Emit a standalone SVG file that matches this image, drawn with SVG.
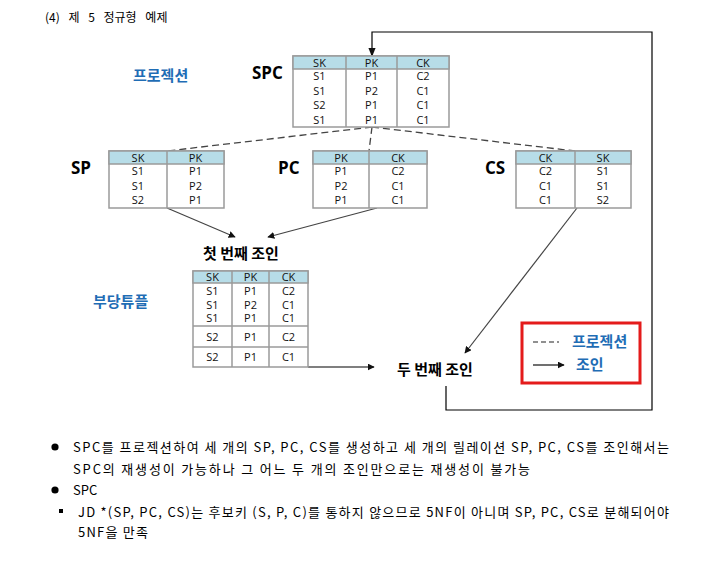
<svg xmlns="http://www.w3.org/2000/svg" width="710" height="572" viewBox="0 0 710 572">
<defs>
<style>
text{font-family:"Noto Sans CJK KR","Noto Sans",sans-serif;fill:#000}
.cell{font-family:"Open Sans","Noto Sans",sans-serif;font-size:11px;text-anchor:middle;fill:#111}
.hdr{fill:#b7dde8;stroke:#9a9a9a;stroke-width:1.5}
.box{fill:#fff;stroke:#9a9a9a;stroke-width:1.5}
.div{stroke:#9a9a9a;stroke-width:1.5}
.lbl{font-family:"Open Sans","Noto Sans",sans-serif;font-weight:bold;font-size:17px}
.blue{fill:#1f6db5;font-weight:bold;font-size:15px}
.jn{font-weight:bold;font-size:15px}
.body{font-size:13px}
.dash{stroke:#444;stroke-width:1.3;stroke-dasharray:7 4;fill:none}
.solid{stroke:#444;stroke-width:1.2;fill:none}
.blk{stroke:#000;stroke-width:1.2;fill:none}
</style>
<marker id="ah" viewBox="0 0 10 10" refX="9" refY="5" markerWidth="7" markerHeight="7" orient="auto" markerUnits="userSpaceOnUse"><path d="M0,0 L10,5 L0,10 z" fill="#111"/></marker>
<marker id="ah2" viewBox="0 0 10 10" refX="9" refY="5" markerWidth="9" markerHeight="9" orient="auto" markerUnits="userSpaceOnUse"><path d="M0,1 L10,5 L0,9 z" fill="#111"/></marker>
</defs>
<rect width="710" height="572" fill="#fff"/>
<text x="45" y="22" font-size="12" word-spacing="6">(4) 제 5 정규형 예제</text>

<g id="connectors">
<path class="dash" d="M372,127 L167,151"/>
<path class="dash" d="M372,127 L369,151"/>
<path class="dash" d="M372,127 L575,151"/>
<path class="solid" d="M167,208 L235,237" marker-end="url(#ah)"/>
<path class="solid" d="M377,208 L268,237" marker-end="url(#ah)"/>
<path class="solid" d="M577,208 L465,353" marker-end="url(#ah)"/>
<path class="blk" d="M308,367 L374,367" marker-end="url(#ah)"/>
<path class="blk" d="M446,386 L446,410 L652,410 L652,32 L372,32 L372,56" marker-end="url(#ah2)"/>
</g>

<g id="label-projection"><text x="133" y="81" class="blue">프로젝션</text></g>

<g id="SPC">
<text x="252" y="79" class="lbl">SPC</text>
<rect class="box" x="293" y="56" width="156" height="71"/>
<rect class="hdr" x="293" y="56" width="156" height="13"/>
<line class="div" x1="346" y1="56" x2="346" y2="127"/>
<line class="div" x1="397" y1="56" x2="397" y2="127"/>
<text class="cell" x="319.5" y="67">SK</text><text class="cell" x="371.5" y="67">PK</text><text class="cell" x="423" y="67">CK</text>
<text class="cell" x="319.5" y="80">S1</text><text class="cell" x="371.5" y="80">P1</text><text class="cell" x="423" y="80">C2</text>
<text class="cell" x="319.5" y="95">S1</text><text class="cell" x="371.5" y="95">P2</text><text class="cell" x="423" y="95">C1</text>
<text class="cell" x="319.5" y="109">S2</text><text class="cell" x="371.5" y="109">P1</text><text class="cell" x="423" y="109">C1</text>
<text class="cell" x="319.5" y="124">S1</text><text class="cell" x="371.5" y="124">P1</text><text class="cell" x="423" y="124">C1</text>
</g>

<g id="SP">
<text x="71" y="174" class="lbl">SP</text>
<rect class="box" x="109" y="151" width="115" height="57"/>
<rect class="hdr" x="109" y="151" width="115" height="13"/>
<line class="div" x1="167" y1="151" x2="167" y2="208"/>
<text class="cell" x="138" y="162">SK</text><text class="cell" x="195.5" y="162">PK</text>
<text class="cell" x="138" y="175">S1</text><text class="cell" x="195.5" y="175">P1</text>
<text class="cell" x="138" y="190">S1</text><text class="cell" x="195.5" y="190">P2</text>
<text class="cell" x="138" y="204">S2</text><text class="cell" x="195.5" y="204">P1</text>
</g>

<g id="PC">
<text x="278" y="174" class="lbl">PC</text>
<rect class="box" x="313" y="151" width="114" height="57"/>
<rect class="hdr" x="313" y="151" width="114" height="13"/>
<line class="div" x1="369" y1="151" x2="369" y2="208"/>
<text class="cell" x="341" y="162">PK</text><text class="cell" x="398" y="162">CK</text>
<text class="cell" x="341" y="175">P1</text><text class="cell" x="398" y="175">C2</text>
<text class="cell" x="341" y="190">P2</text><text class="cell" x="398" y="190">C1</text>
<text class="cell" x="341" y="204">P1</text><text class="cell" x="398" y="204">C1</text>
</g>

<g id="CS">
<text x="485" y="174" class="lbl">CS</text>
<rect class="box" x="516" y="151" width="115" height="57"/>
<rect class="hdr" x="516" y="151" width="115" height="13"/>
<line class="div" x1="575" y1="151" x2="575" y2="208"/>
<text class="cell" x="545.5" y="162">CK</text><text class="cell" x="603" y="162">SK</text>
<text class="cell" x="545.5" y="175">C2</text><text class="cell" x="603" y="175">S1</text>
<text class="cell" x="545.5" y="190">C1</text><text class="cell" x="603" y="190">S1</text>
<text class="cell" x="545.5" y="204">C1</text><text class="cell" x="603" y="204">S2</text>
</g>

<g id="first-join">
<text x="203" y="259" class="jn">첫 번째 조인</text>
<rect class="box" x="193" y="271" width="115" height="96"/>
<rect class="hdr" x="193" y="271" width="115" height="12"/>
<line class="div" x1="232" y1="271" x2="232" y2="367"/>
<line class="div" x1="269" y1="271" x2="269" y2="367"/>
<line class="div" x1="193" y1="326" x2="308" y2="326"/>
<line class="div" x1="193" y1="347" x2="308" y2="347"/>
<text class="cell" x="212.5" y="281">SK</text><text class="cell" x="250.5" y="281">PK</text><text class="cell" x="288.5" y="281">CK</text>
<text class="cell" x="212.5" y="295">S1</text><text class="cell" x="250.5" y="295">P1</text><text class="cell" x="288.5" y="295">C2</text>
<text class="cell" x="212.5" y="309">S1</text><text class="cell" x="250.5" y="309">P2</text><text class="cell" x="288.5" y="309">C1</text>
<text class="cell" x="212.5" y="322">S1</text><text class="cell" x="250.5" y="322">P1</text><text class="cell" x="288.5" y="322">C1</text>
<text class="cell" x="212.5" y="341">S2</text><text class="cell" x="250.5" y="341">P1</text><text class="cell" x="288.5" y="341">C2</text>
<text class="cell" x="212.5" y="361">S2</text><text class="cell" x="250.5" y="361">P1</text><text class="cell" x="288.5" y="361">C1</text>
</g>

<g id="label-spurious"><text x="93" y="307" class="blue">부당튜플</text></g>

<g id="second-join"><text x="397" y="375" class="jn">두 번째 조인</text></g>

<g id="legend">
<rect x="522" y="323" width="118" height="60" fill="none" stroke="#e41b1b" stroke-width="3"/>
<line x1="533" y1="342" x2="559" y2="342" stroke="#222" stroke-width="1.2" stroke-dasharray="5 3"/>
<text x="572" y="347" class="blue">프로젝션</text>
<line x1="533" y1="365" x2="564" y2="365" stroke="#111" stroke-width="1.2" marker-end="url(#ah)"/>
<text x="576" y="370" class="blue">조인</text>
</g>

<g id="notes">
<circle cx="55" cy="447" r="3.6" fill="#000"/>
<text x="73" y="452" class="body" textLength="596" lengthAdjust="spacing">SPC를 프로젝션하여 세 개의 SP, PC, CS를 생성하고 세 개의 릴레이션 SP, PC, CS를 조인해서는</text>
<text x="73" y="474" class="body" textLength="457" lengthAdjust="spacing">SPC의 재생성이 가능하나 그 어느 두 개의 조인만으로는 재생성이 불가능</text>
<circle cx="55" cy="490" r="3.6" fill="#000"/>
<text x="73" y="495" class="body">SPC</text>
<rect x="59" y="509" width="4" height="4" fill="#000"/>
<text x="78" y="517" class="body" textLength="591" lengthAdjust="spacing">JD *(SP, PC, CS)는 후보키 (S, P, C)를 통하지 않으므로 5NF이 아니며 SP, PC, CS로 분해되어야</text>
<text x="78" y="537" class="body" textLength="70" lengthAdjust="spacing">5NF을 만족</text>
</g>
</svg>
